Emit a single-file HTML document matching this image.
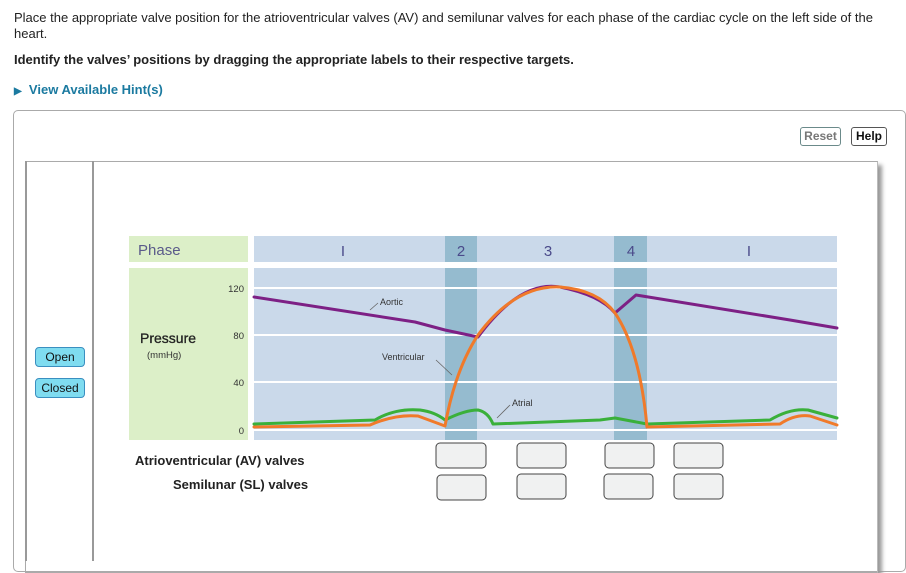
<!DOCTYPE html>
<html><head><meta charset="utf-8"><style>
body{margin:0;width:906px;height:560px;overflow:hidden;background:#fff;font-family:"Liberation Sans",Arial,sans-serif;position:relative}
.t{position:absolute;font-size:13px;color:#222;line-height:16px}
.btn{position:absolute;border:1px solid #6b8a8a;border-radius:3px;font-size:12px;font-weight:bold;height:17px;line-height:17px;text-align:center;background:#fff}
.lb{position:absolute;left:35px;width:48px;height:18px;line-height:18px;background:#7fdcf0;border:1px solid #3a8fc0;border-radius:4px;font-size:12px;text-align:center;color:#111}
</style></head><body>
<div class="t" style="left:14px;top:10px;width:875px">Place the appropriate valve position for the atrioventricular valves (AV) and semilunar valves for each phase of the cardiac cycle on the left side of the heart.</div>
<div class="t" style="left:14px;top:52px;font-weight:bold">Identify the valves’ positions by dragging the appropriate labels to their respective targets.</div>
<div class="t" style="left:14px;top:82px;font-weight:bold;color:#1b7aa0"><span style="font-size:10px">&#9654;</span>&nbsp; View Available Hint(s)</div>
<div style="position:absolute;left:13px;top:110px;width:891px;height:460px;border:1px solid #aaa;border-radius:5px"></div>
<div class="btn" style="left:800px;top:127px;width:39px;color:#777">Reset</div>
<div class="btn" style="left:851px;top:127px;width:34px;color:#111;border-color:#555">Help</div>
<div style="position:absolute;left:25px;top:161px;width:851px;height:410px;border:1px solid #aaa;border-right:1px solid #bbb;box-shadow:4px 4px 4px #999"></div>
<div style="position:absolute;left:92px;top:161px;width:2px;height:400px;background:#999"></div>
<div style="position:absolute;left:25px;top:161px;width:2px;height:400px;background:#999"></div>
<div class="lb" style="top:347px">Open</div>
<div class="lb" style="top:378px">Closed</div>
<svg style="position:absolute;left:0;top:0" width="906" height="560">
<rect x="129" y="236" width="119" height="26" fill="#dcefc8"/>
<rect x="129" y="268" width="119" height="172" fill="#dcefc8"/>
<rect x="254" y="236" width="583" height="26" fill="#cad9ea"/>
<rect x="254" y="268" width="583" height="172" fill="#cad9ea"/>
<rect x="445" y="236" width="32" height="26" fill="#95bbcf"/>
<rect x="445" y="268" width="32" height="172" fill="#95bbcf"/>
<rect x="614" y="236" width="33" height="26" fill="#95bbcf"/>
<rect x="614" y="268" width="33" height="172" fill="#95bbcf"/>
<g stroke="#fff" stroke-width="2"><line x1="254" y1="288" x2="837" y2="288"/><line x1="254" y1="335" x2="837" y2="335"/><line x1="254" y1="382" x2="837" y2="382"/><line x1="254" y1="430" x2="837" y2="430"/></g>
<g font-family="Liberation Sans,sans-serif" fill="#4a4a8a" font-size="15" text-anchor="middle"><text x="343" y="256">I</text><text x="461" y="256">2</text><text x="548" y="256">3</text><text x="631" y="256">4</text><text x="749" y="256">I</text></g>
<text x="138" y="255" font-family="Liberation Sans,sans-serif" font-size="15" fill="#5a5a8a">Phase</text>
<text x="140" y="343" font-family="Liberation Sans,sans-serif" font-size="14" fill="#222" stroke="#222" stroke-width="0.3">Pressure</text>
<text x="147" y="358" font-family="Liberation Sans,sans-serif" font-size="9.5" fill="#333">(mmHg)</text>
<g font-family="Liberation Sans,sans-serif" font-size="9.5" fill="#333" text-anchor="end"><text x="244" y="292">120</text><text x="244" y="339">80</text><text x="244" y="386">40</text><text x="244" y="434">0</text></g>
<g fill="none" stroke-width="3" stroke-linejoin="round" stroke-linecap="round">
<path d="M254 297 L415 322 L445 330 L478 337 Q520 280 560 287 Q600 295 615 313 L636 295 L790 320 L837 328" stroke="#7d2085"/>
<path d="M254 424 L375 420 Q395 408 420 410 Q435 412 445 420 Q465 410 478 410 Q488 412 493 424 L600 420 L615 418 L647 424 L770 420 Q790 408 808 410 L837 418" stroke="#3ab03a"/>
<path d="M254 427 L370 425 Q395 414 418 416 L445 426 Q455 370 478 335 Q515 285 560 287 Q598 290 615 313 Q640 350 647 427 L780 424 Q795 414 810 416 L837 425" stroke="#f07a2a"/>
</g>
<g stroke="#666" stroke-width="0.8" fill="none"><line x1="370" y1="310" x2="378" y2="303"/><line x1="436" y1="360" x2="452" y2="375"/><line x1="497" y1="418" x2="510" y2="405"/></g>
<g font-family="Liberation Sans,sans-serif" font-size="9" fill="#333"><text x="380" y="305">Aortic</text><text x="382" y="360">Ventricular</text><text x="512" y="406">Atrial</text></g>
<g font-family="Liberation Sans,sans-serif" font-size="13" font-weight="bold" fill="#222"><text x="135" y="465">Atrioventricular (AV) valves</text><text x="173" y="489">Semilunar (SL) valves</text></g>
<g fill="#f0f1f1" stroke="#444" stroke-width="1">
<rect x="436" y="443" width="50" height="25" rx="4"/><rect x="517" y="443" width="49" height="25" rx="4"/><rect x="605" y="443" width="49" height="25" rx="4"/><rect x="674" y="443" width="49" height="25" rx="4"/>
<rect x="437" y="475" width="49" height="25" rx="4"/><rect x="517" y="474" width="49" height="25" rx="4"/><rect x="604" y="474" width="49" height="25" rx="4"/><rect x="674" y="474" width="49" height="25" rx="4"/>
</g>
</svg>
</body></html>
